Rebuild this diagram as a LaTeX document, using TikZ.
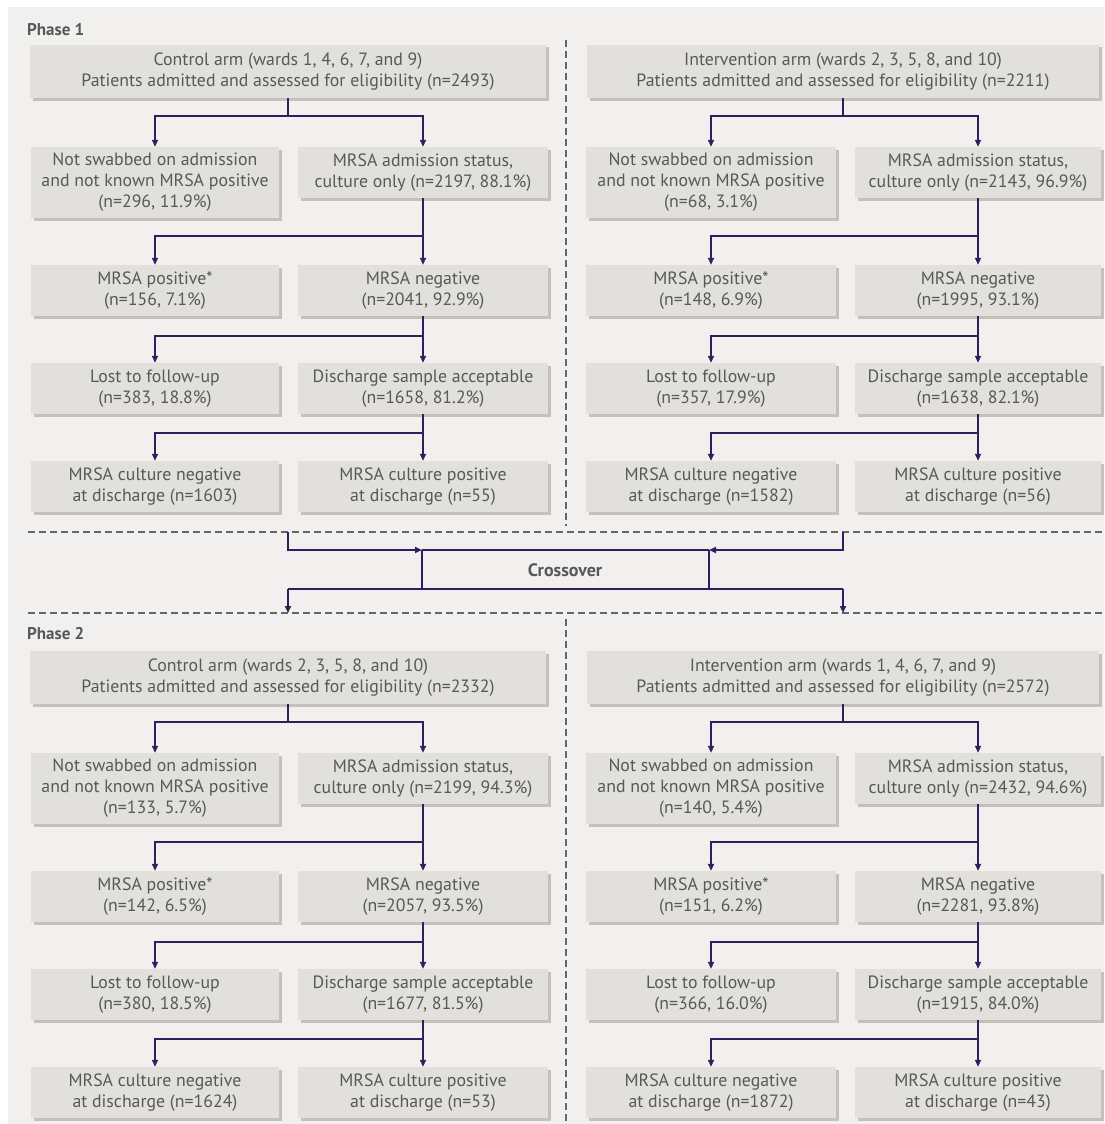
\documentclass[tikz,border=0pt]{standalone}
\usepackage{fontspec}
\setmainfont{PT Sans}
\usetikzlibrary{arrows.meta,shadows}
\definecolor{bggray}{HTML}{F2F0EE}
\definecolor{boxgray}{HTML}{E2E0DD}
\definecolor{shadowgray}{HTML}{C4C1BD}
\definecolor{txtgray}{HTML}{585858}
\definecolor{navy}{HTML}{2E1F5E}
\definecolor{dashgray}{HTML}{666666}
\newcommand\fork[4]{%
  \coordinate (#1-j) at (#1.south |- 0,#2);
  \draw[conn] (#1.south) -- (#1-j);
  \draw[conn,arr] (#1-j) -| (#3.north);
  \draw[conn,arr] (#1-j) -| (#4.north);
}
\begin{document}
\begin{tikzpicture}[x=1pt,y=-1pt,
  box/.style={fill=boxgray, text=txtgray, align=center, inner sep=0pt,
    font={\fontsize{17.8}{21}\selectfont},
    drop shadow={shadow xshift=2.5pt, shadow yshift=-2.5pt, opacity=1, fill=shadowgray}},
  topbox/.style={box, minimum height=53pt},
  threebox/.style={box, minimum height=71pt},
  twobox/.style={box, minimum height=51pt},
  colT/.style={minimum width=516pt},
  colA/.style={minimum width=248pt},
  colB/.style={minimum width=250pt},
  colTR/.style={minimum width=512pt},
  colAR/.style={minimum width=250pt},
  colBR/.style={minimum width=246pt},
  conn/.style={draw=navy, line width=1.8pt},
  arr/.style={-{Triangle[length=7pt,width=6pt]}},
  sep/.style={draw=dashgray, line width=1.1pt, dash pattern=on 7pt off 4pt},
  phaselbl/.style={font={\fontsize{17}{20}\selectfont\bfseries}, text=txtgray, anchor=west, inner sep=0pt},
]
\useasboundingbox (0,0) rectangle (1104,1124);
\fill[white] (0,0) rectangle (1104,1124);
\fill[bggray] (8,7) rectangle (1104,1124);

% separators
\coordinate (s1a) at (28,532); \coordinate (s1b) at (1104,532);
\coordinate (s2a) at (28,613); \coordinate (s2b) at (1104,613);
\coordinate (v1a) at (566,40); \coordinate (v1b) at (566,526);
\coordinate (v2a) at (566,619); \coordinate (v2b) at (566,1124);
\draw[sep] (s1a) -- (s1b);
\draw[sep] (s2a) -- (s2b);
\draw[sep] (v1a) -- (v1b);
\draw[sep] (v2a) -- (v2b);

% ---------------- Phase 1 ----------------
\node[phaselbl] (ph1) at (27,30) {Phase 1};

\node[topbox,colT] (a1) at (288,71.5) {Control arm (wards 1, 4, 6, 7, and 9)\\Patients admitted and assessed for eligibility (n=2493)};
\node[threebox,colA] (a2l) at (155,182.5) {Not swabbed on admission\\and not known MRSA positive\\(n=296, 11.9\%)};
\node[twobox,colB] (a2r) at (423,172.5) {MRSA admission status,\\culture only (n=2197, 88.1\%)};
\node[twobox,colA] (a3l) at (155,290.5) {MRSA positive*\\(n=156, 7.1\%)};
\node[twobox,colB] (a3r) at (423,290.5) {MRSA negative\\(n=2041, 92.9\%)};
\node[twobox,colA] (a4l) at (155,388.5) {Lost to follow-up\\(n=383, 18.8\%)};
\node[twobox,colB] (a4r) at (423,388.5) {Discharge sample acceptable\\(n=1658, 81.2\%)};
\node[twobox,colA] (a5l) at (155,486.5) {MRSA culture negative\\at discharge (n=1603)};
\node[twobox,colB] (a5r) at (423,486.5) {MRSA culture positive\\at discharge (n=55)};

\node[topbox,colTR] (b1) at (843,71.5) {Intervention arm (wards 2, 3, 5, 8, and 10)\\Patients admitted and assessed for eligibility (n=2211)};
\node[threebox,colAR] (b2l) at (711,182.5) {Not swabbed on admission\\and not known MRSA positive\\(n=68, 3.1\%)};
\node[twobox,colBR] (b2r) at (978,172.5) {MRSA admission status,\\culture only (n=2143, 96.9\%)};
\node[twobox,colAR] (b3l) at (711,290.5) {MRSA positive*\\(n=148, 6.9\%)};
\node[twobox,colBR] (b3r) at (978,290.5) {MRSA negative\\(n=1995, 93.1\%)};
\node[twobox,colAR] (b4l) at (711,388.5) {Lost to follow-up\\(n=357, 17.9\%)};
\node[twobox,colBR] (b4r) at (978,388.5) {Discharge sample acceptable\\(n=1638, 82.1\%)};
\node[twobox,colAR] (b5l) at (711,486.5) {MRSA culture negative\\at discharge (n=1582)};
\node[twobox,colBR] (b5r) at (978,486.5) {MRSA culture positive\\at discharge (n=56)};

\fork{a1}{116}{a2l}{a2r}
\fork{a2r}{236}{a3l}{a3r}
\fork{a3r}{336}{a4l}{a4r}
\fork{a4r}{433}{a5l}{a5r}
\fork{b1}{116}{b2l}{b2r}
\fork{b2r}{236}{b3l}{b3r}
\fork{b3r}{336}{b4l}{b4r}
\fork{b4r}{433}{b5l}{b5r}

% ---------------- Crossover ----------------
\node[font={\fontsize{18}{20}\selectfont\bfseries}, text=txtgray, inner sep=0pt] (cross) at (565,570) {Crossover};
\coordinate (cL0) at (288,532);
\coordinate (cR0) at (843,532);
\coordinate (cLt) at (422,550);
\coordinate (cRt) at (709,550);
\coordinate (cLb) at (422,589);
\coordinate (cRb) at (709,589);
\coordinate (dL1) at (288,589);
\coordinate (dR1) at (843,589);
\coordinate (dL2) at (288,613);
\coordinate (dR2) at (843,613);
\draw[conn,arr] (cL0) |- (cLt);
\draw[conn,arr] (cR0) |- (cRt);
\draw[conn] (cLt) -- (cRt);
\draw[conn] (cLt) -- (cLb);
\draw[conn] (cRt) -- (cRb);
\draw[conn] (dL1) -- (dR1);
\draw[conn,arr] (dL1) -- (dL2);
\draw[conn,arr] (dR1) -- (dR2);

% ---------------- Phase 2 ----------------
\node[phaselbl] (ph2) at (27,634) {Phase 2};

\node[topbox,colT] (c1) at (288,677.5) {Control arm (wards 2, 3, 5, 8, and 10)\\Patients admitted and assessed for eligibility (n=2332)};
\node[threebox,colA] (c2l) at (155,788.5) {Not swabbed on admission\\and not known MRSA positive\\(n=133, 5.7\%)};
\node[twobox,colB] (c2r) at (423,778.5) {MRSA admission status,\\culture only (n=2199, 94.3\%)};
\node[twobox,colA] (c3l) at (155,896.5) {MRSA positive*\\(n=142, 6.5\%)};
\node[twobox,colB] (c3r) at (423,896.5) {MRSA negative\\(n=2057, 93.5\%)};
\node[twobox,colA] (c4l) at (155,994.5) {Lost to follow-up\\(n=380, 18.5\%)};
\node[twobox,colB] (c4r) at (423,994.5) {Discharge sample acceptable\\(n=1677, 81.5\%)};
\node[twobox,colA] (c5l) at (155,1092.5) {MRSA culture negative\\at discharge (n=1624)};
\node[twobox,colB] (c5r) at (423,1092.5) {MRSA culture positive\\at discharge (n=53)};

\node[topbox,colTR] (d1) at (843,677.5) {Intervention arm (wards 1, 4, 6, 7, and 9)\\Patients admitted and assessed for eligibility (n=2572)};
\node[threebox,colAR] (d2l) at (711,788.5) {Not swabbed on admission\\and not known MRSA positive\\(n=140, 5.4\%)};
\node[twobox,colBR] (d2r) at (978,778.5) {MRSA admission status,\\culture only (n=2432, 94.6\%)};
\node[twobox,colAR] (d3l) at (711,896.5) {MRSA positive*\\(n=151, 6.2\%)};
\node[twobox,colBR] (d3r) at (978,896.5) {MRSA negative\\(n=2281, 93.8\%)};
\node[twobox,colAR] (d4l) at (711,994.5) {Lost to follow-up\\(n=366, 16.0\%)};
\node[twobox,colBR] (d4r) at (978,994.5) {Discharge sample acceptable\\(n=1915, 84.0\%)};
\node[twobox,colAR] (d5l) at (711,1092.5) {MRSA culture negative\\at discharge (n=1872)};
\node[twobox,colBR] (d5r) at (978,1092.5) {MRSA culture positive\\at discharge (n=43)};

\fork{c1}{722}{c2l}{c2r}
\fork{c2r}{842}{c3l}{c3r}
\fork{c3r}{942}{c4l}{c4r}
\fork{c4r}{1039}{c5l}{c5r}
\fork{d1}{722}{d2l}{d2r}
\fork{d2r}{842}{d3l}{d3r}
\fork{d3r}{942}{d4l}{d4r}
\fork{d4r}{1039}{d5l}{d5r}
\end{tikzpicture}
\end{document}
